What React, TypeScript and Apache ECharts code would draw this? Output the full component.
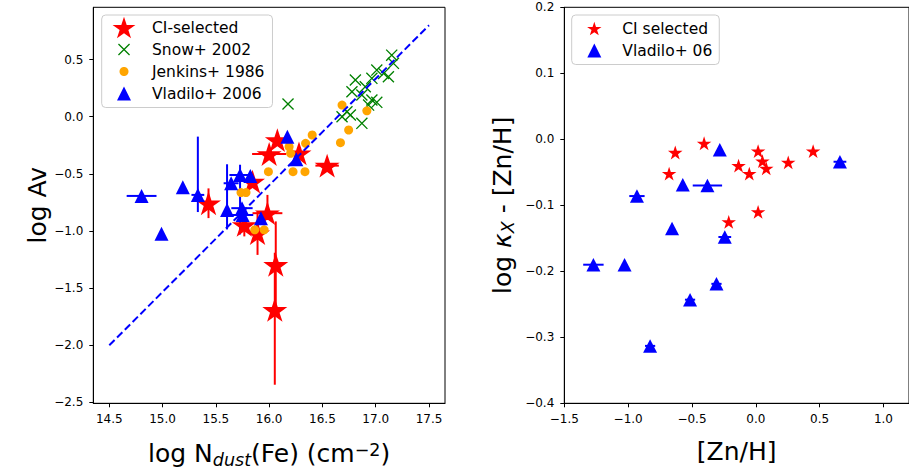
import React, { useEffect, useRef } from 'react';
import * as echarts from 'echarts';

// ---------- Left panel: log Av vs log N_dust(Fe) ----------
// [x, y, xerr, yerrDown, yerrUp]
const ciSelected = [
  [16.077, -0.204, 0, 0, 0],
  [16.0, -0.326, 0.16, 0, 0],
  [16.28, -0.32, 0, 0, 0],
  [16.544, -0.428, 0.11, 0, 0],
  [15.844, -0.568, 0, 0, 0],
  [15.431, -0.757, 0, 0.13, 0.13],
  [15.984, -0.844, 0.14, 0.06, 0.16],
  [15.767, -0.947, 0, 0.1, 0.1],
  [15.891, -1.019, 0, 0.19, 0.19],
  [16.062, -1.296, 0, 0.38, 0.38],
  [16.053, -1.69, 0, 0.655, 0.5],
];
const snow2002 = [
  [16.177, 0.111],
  [17.15, 0.539],
  [17.166, 0.467],
  [17.119, 0.35],
  [17.074, 0.379],
  [17.01, 0.408],
  [16.964, 0.336],
  [16.809, 0.321],
  [16.902, 0.262],
  [16.777, 0.219],
  [16.87, 0.19],
  [16.964, 0.146],
  [17.01, 0.126],
  [16.933, 0.102],
  [16.73, 0.044],
  [16.762, 0.015],
  [16.684, 0.0],
  [16.87, -0.058],
];
const jenkins1986 = [
  [16.684, 0.102],
  [16.917, 0.052],
  [16.746, -0.116],
  [16.669, -0.227],
  [16.404, -0.16],
  [16.342, -0.233],
  [16.187, -0.262],
  [16.202, -0.32],
  [15.993, -0.481],
  [16.224, -0.481],
  [16.336, -0.481],
  [15.736, -0.664],
  [15.783, -0.664],
  [15.865, -0.99],
  [15.953, -0.99],
];
const vladilo2006 = [
  [14.803, -0.693, 0.14, 0, 0],
  [14.99, -1.025, 0, 0, 0],
  [15.19, -0.617, 0, 0, 0],
  [15.331, -0.684, 0.06, 0.15, 0.51],
  [15.643, -0.582, 0.07, 0, 0],
  [15.605, -0.816, 0, 0.17, 0.4],
  [15.727, -0.51, 0.1, 0.52, 0.09],
  [15.823, -0.518, 0, 0, 0],
  [15.745, -0.8, 0.1, 0, 0],
  [15.751, -0.86, 0.1, 0, 0],
  [15.923, -0.888, 0, 0, 0],
  [16.171, -0.175, 0, 0, 0],
  [16.255, -0.372, 0, 0, 0],
];
const fitLine = [
  [14.5, -2.0],
  [17.5, 0.8],
];

// ---------- Right panel: log kappa_X - [Zn/H] vs [Zn/H] ----------
const ciZn = [
  [-0.631, -0.02],
  [-0.405, -0.006],
  [-0.679, -0.052],
  [0.018, -0.018],
  [0.052, -0.033],
  [0.082, -0.044],
  [-0.135, -0.04],
  [-0.051, -0.052],
  [0.254, -0.035],
  [0.449, -0.018],
  [0.018, -0.11],
  [-0.212, -0.125],
];
// [x, y, xerr]
const vladiloZn = [
  [-0.282, -0.016, 0],
  [0.659, -0.034, 0.05],
  [-0.572, -0.069, 0],
  [-0.379, -0.07, 0.115],
  [-0.931, -0.086, 0.06],
  [-0.656, -0.135, 0],
  [-0.243, -0.148, 0.05],
  [-1.272, -0.19, 0.08],
  [-1.028, -0.19, 0],
  [-0.308, -0.219, 0.04],
  [-0.515, -0.243, 0.04],
  [-0.828, -0.313, 0.04],
];

// ---------- Ticks ----------
const leftXTicks = [14.5, 15, 15.5, 16, 16.5, 17, 17.5];
const leftYTicks = [-2.5, -2, -1.5, -1, -0.5, 0, 0.5];
const rightXTicks = [-1.5, -1, -0.5, 0, 0.5, 1];
const rightYTicks = [-0.4, -0.3, -0.2, -0.1, 0, 0.1, 0.2];

const FONT = 'DejaVu Sans';
const RED = '#ff0000';
const GREEN = '#008000';
const ORANGE = '#ffa500';
const BLUE = '#0000ff';

function starPoints(cx: number, cy: number, R: number) {
  const pts: number[][] = [];
  for (let i = 0; i < 10; i++) {
    const r = i % 2 === 0 ? R : R * 0.381966;
    const a = -Math.PI / 2 + (i * Math.PI) / 5;
    pts.push([cx + r * Math.cos(a), cy + r * Math.sin(a)]);
  }
  return pts;
}
function poly(pts: number[][]) {
  return 'M' + pts.map((p) => p[0].toFixed(3) + ' ' + p[1].toFixed(3)).join('L') + 'Z';
}
function crossPts(cx: number, cy: number, s: number, w: number) {
  const h = s / 2;
  const d = w / Math.SQRT2;
  const x0 = cx - h, y0 = cy - h, x1 = cx + h, y1 = cy + h;
  const a = [[x0, y0 + d], [x0 + d, y0], [x1, y1 - d], [x1 - d, y1]];
  const b = [[x1 - d, y0], [x1, y0 + d], [x0 + d, y1], [x0, y1 - d]];
  return poly(a) + poly(b);
}
function circlePts(cx: number, cy: number, r: number) {
  const pts: number[][] = [];
  for (let i = 0; i < 36; i++) {
    const a = (i * 2 * Math.PI) / 36;
    pts.push([cx + r * Math.cos(a), cy + r * Math.sin(a)]);
  }
  return pts;
}

const STAR_SYMBOL = 'path://' + poly(starPoints(0, 0, 10));
const CROSS_SYMBOL = 'path://' + crossPts(5, 5, 10, 1.1);

// legend icons on a 40x22 canvas (padding points fix the bounding box)
const PAD = 'M0 0M40 22';
const legStar = (R: number) => 'path://' + PAD + poly(starPoints(17, 11 + 0.0955 * R, R));
const legCross = 'path://' + PAD + crossPts(17, 11, 12, 1.3);
const legCircle = 'path://' + PAD + poly(circlePts(17, 11, 4.5));
const legTri = 'path://' + PAD + poly([[17, 4], [24, 18], [10, 18]]);

const fmt = (v: number) => v.toFixed(1).replace('-', '\u2212');

function errRender(color: string) {
  return (params: any, api: any) => {
    const x = Number(api.value(0));
    const y = Number(api.value(1));
    const xe = Number(api.value(2)) || 0;
    const yd = Number(api.value(3)) || 0;
    const yu = Number(api.value(4)) || 0;
    const style = { stroke: color, lineWidth: 2 };
    const children: any[] = [];
    if (xe > 0) {
      const p1 = api.coord([x - xe, y]);
      const p2 = api.coord([x + xe, y]);
      children.push({ type: 'line', shape: { x1: p1[0], y1: p1[1], x2: p2[0], y2: p2[1] }, style });
    }
    if (yd > 0 || yu > 0) {
      const p1 = api.coord([x, y - yd]);
      const p2 = api.coord([x, y + yu]);
      children.push({ type: 'line', shape: { x1: p1[0], y1: p1[1], x2: p2[0], y2: p2[1] }, style });
    }
    return { type: 'group', children };
  };
}

function makeAxis(min: number, max: number, ticks: number[], gridIndex: number, extra: any) {
  return {
    type: 'value',
    gridIndex,
    min,
    max,
    axisLine: { show: true, onZero: false, lineStyle: { color: '#000', width: 1 } },
    axisTick: { show: true, inside: false, length: 4, customValues: ticks, lineStyle: { color: '#000', width: 1 } },
    axisLabel: {
      show: true,
      customValues: ticks,
      formatter: (v: number) => fmt(v),
      fontFamily: FONT,
      fontSize: 12,
      color: '#000',
      margin: 10,
      showMinLabel: true,
      showMaxLabel: true,
    },
    splitLine: { show: false },
    ...extra,
  };
}

const titleRich = {
  a: { fontFamily: FONT, fontSize: 25, lineHeight: 30, color: '#000' },
  k: { fontFamily: FONT, fontSize: 25, lineHeight: 30, color: '#000', fontStyle: 'italic' },
  b: { fontFamily: FONT, fontSize: 17.5, lineHeight: 17.5, color: '#000', fontStyle: 'italic', verticalAlign: 'bottom' },
  c: { fontFamily: FONT, fontSize: 17.5, lineHeight: 17.5, color: '#000', verticalAlign: 'top', padding: [2, 0, 0, 0] },
};

export default function App() {
  const ref = useRef<HTMLDivElement>(null);
  useEffect(() => {
    if (!ref.current) return;
    const chart = echarts.init(ref.current, undefined, { renderer: 'svg' });
    const legendCommon = {
      orient: 'vertical',
      itemGap: 0,
      itemWidth: 40,
      itemHeight: 22,
      selectedMode: false,
      backgroundColor: 'rgba(255,255,255,0.8)',
      borderColor: '#cccccc',
      borderWidth: 1,
      borderRadius: 4,
      textStyle: { fontFamily: FONT, fontSize: 15.5, color: '#000' },
    };
    chart.setOption({
      animation: false,
      backgroundColor: '#ffffff',
      textStyle: { fontFamily: FONT },
      grid: [
        { left: 93.3, top: 7.3, width: 351.7, height: 396, show: true, borderColor: '#000', borderWidth: 1, backgroundColor: 'transparent' },
        { left: 564.3, top: 7.3, width: 351.7, height: 396, show: true, borderColor: '#000', borderWidth: 1, backgroundColor: 'transparent' },
      ],
      xAxis: [
        makeAxis(14.35, 17.65, leftXTicks, 0, {
          name: '{a|log N}{b|dust}{a|(Fe) (cm}{c|\u22122}{a|)}',
          nameLocation: 'middle',
          nameGap: 35.5,
          nameTextStyle: { fontFamily: FONT, fontSize: 25, color: '#000', rich: titleRich },
        }),
        makeAxis(-1.5, 1.2, rightXTicks, 1, {
          name: '{a|[Zn/H]}',
          nameLocation: 'middle',
          nameGap: 33,
          nameTextStyle: { fontFamily: FONT, fontSize: 25, color: '#000', rich: titleRich },
        }),
      ],
      yAxis: [
        makeAxis(-2.5075, 0.9575, leftYTicks, 0, {
          name: '{a|log Av}',
          nameLocation: 'middle',
          nameGap: 36,
          nameTextStyle: { fontFamily: FONT, fontSize: 25, color: '#000', rich: titleRich },
        }),
        makeAxis(-0.4, 0.2, rightYTicks, 1, {
          name: '{a|log }{k|\u03ba}{b|X}{a| - [Zn/H]}',
          nameLocation: 'middle',
          nameGap: 47,
          nameTextStyle: { fontFamily: FONT, fontSize: 25, color: '#000', rich: titleRich },
        }),
      ],
      legend: [
        {
          ...legendCommon,
          left: 101.7,
          top: 15,
          padding: [1.5, 8, 3, 5.3],
          data: [
            { name: 'CI-selected', icon: legStar(12) },
            { name: 'Snow+ 2002', icon: legCross },
            { name: 'Jenkins+ 1986', icon: legCircle },
            { name: 'Vladilo+ 2006', icon: legTri },
          ],
        },
        {
          ...legendCommon,
          left: 571.7,
          top: 15,
          padding: [2.5, 7, 3, 5.6],
          data: [
            { name: 'CI selected', icon: legStar(7.6) },
            { name: 'Vladilo+ 06', icon: legTri },
          ],
        },
      ],
      series: [
        {
          name: 'ci-err',
          type: 'custom',
          xAxisIndex: 0,
          yAxisIndex: 0,
          renderItem: errRender(RED),
          data: ciSelected,
          silent: true,
        },
        {
          name: 'CI-selected',
          type: 'scatter',
          xAxisIndex: 0,
          yAxisIndex: 0,
          symbol: STAR_SYMBOL,
          symbolSize: [25, 23.8],
          itemStyle: { color: RED, opacity: 1 },
          data: ciSelected.map((d) => [d[0], d[1]]),
          silent: true,
        },
        {
          name: 'Snow+ 2002',
          type: 'scatter',
          xAxisIndex: 0,
          yAxisIndex: 0,
          symbol: CROSS_SYMBOL,
          symbolSize: 12,
          itemStyle: { color: GREEN, opacity: 1 },
          data: snow2002,
          silent: true,
        },
        {
          name: 'Jenkins+ 1986',
          type: 'scatter',
          xAxisIndex: 0,
          yAxisIndex: 0,
          symbol: 'circle',
          symbolSize: 9,
          itemStyle: { color: ORANGE, opacity: 1 },
          data: jenkins1986,
          silent: true,
        },
        {
          name: 'fit',
          type: 'line',
          xAxisIndex: 0,
          yAxisIndex: 0,
          data: fitLine,
          symbol: 'none',
          lineStyle: { color: BLUE, width: 2, type: [7.5, 3.5] },
          silent: true,
        },
        {
          name: 'vl-err',
          type: 'custom',
          xAxisIndex: 0,
          yAxisIndex: 0,
          renderItem: errRender(BLUE),
          data: vladilo2006,
          silent: true,
        },
        {
          name: 'Vladilo+ 2006',
          type: 'scatter',
          xAxisIndex: 0,
          yAxisIndex: 0,
          symbol: 'triangle',
          symbolSize: [14, 14],
          itemStyle: { color: BLUE, opacity: 1 },
          data: vladilo2006.map((d) => [d[0], d[1]]),
          silent: true,
        },
        {
          name: 'CI selected',
          type: 'scatter',
          xAxisIndex: 1,
          yAxisIndex: 1,
          symbol: STAR_SYMBOL,
          symbolSize: [14.5, 13.8],
          itemStyle: { color: RED, opacity: 1 },
          data: ciZn,
          silent: true,
        },
        {
          name: 'vz-err',
          type: 'custom',
          xAxisIndex: 1,
          yAxisIndex: 1,
          renderItem: errRender(BLUE),
          data: vladiloZn,
          silent: true,
        },
        {
          name: 'Vladilo+ 06',
          type: 'scatter',
          xAxisIndex: 1,
          yAxisIndex: 1,
          symbol: 'triangle',
          symbolSize: [14, 13.5],
          itemStyle: { color: BLUE, opacity: 1 },
          data: vladiloZn.map((d) => [d[0], d[1]]),
          silent: true,
        },
      ],
    });
    return () => chart.dispose();
  }, []);
  return (
    <div
      ref={ref}
      style={{ position: 'absolute', left: 0, top: 0, width: 909, height: 475, background: '#fff' }}
    />
  );
}
